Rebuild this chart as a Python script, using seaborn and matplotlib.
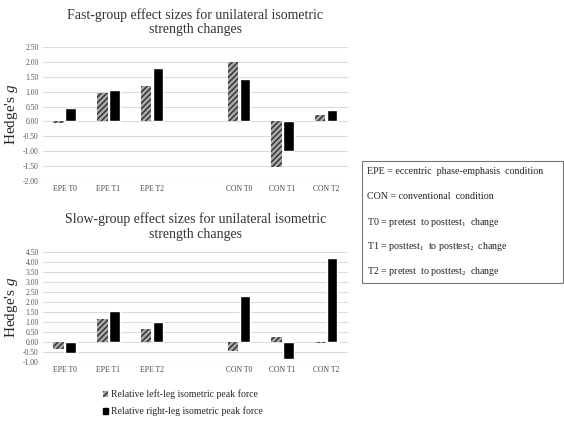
import numpy as np
import pandas as pd
import matplotlib
matplotlib.use("Agg")
import matplotlib.pyplot as plt
from matplotlib.patches import Patch, Rectangle
import seaborn as sns

# categories (blank slot separates the two conditions)
categories = ["EPE T0", "EPE T1", "EPE T2", "", "CON T0", "CON T1", "CON T2"]
conditions = ["EPE T0", "EPE T1", "EPE T2", "CON T0", "CON T1", "CON T2"]
sides = ["Relative left-leg isometric peak force", "Relative right-leg isometric peak force"]

fast_left = [-0.05, 0.95, 1.20, 2.00, -1.52, 0.22]
fast_right = [0.45, 1.05, 1.80, 1.42, -1.00, 0.40]
slow_left = [-0.33, 1.13, 0.63, -0.47, 0.27, -0.03]
slow_right = [-0.55, 1.53, 1.02, 2.32, -0.85, 4.20]

fast_ticks = np.arange(-2.0, 2.51, 0.5)
slow_ticks = np.arange(-1.0, 4.51, 0.5)

notes = ["EPE = eccentric  phase-emphasis  condition",
         "CON = conventional  condition",
         "T0 = pretest  to posttest$_1$  change",
         "T1 = posttest$_1$  to posttest$_2$  change",
         "T2 = pretest  to posttest$_2$  change"]

sns.set_style("white")
plt.rcParams["font.family"] = ["Liberation Serif", "DejaVu Serif"]
plt.rcParams["mathtext.fontset"] = "custom"
plt.rcParams["mathtext.rm"] = "Liberation Serif"
plt.rcParams["mathtext.it"] = "Liberation Serif:italic"
plt.rcParams["hatch.linewidth"] = 1.0

hatch_face = "#a8a8a8"
hatch_line = "#2e2e2e"
right_color = "#000000"


def make_df(left, right):
    return pd.DataFrame({
        "cond": conditions * 2,
        "g": list(left) + list(right),
        "side": [sides[0]] * len(left) + [sides[1]] * len(right),
    })


def draw_panel(ax, left, right, ticks, title):
    df = make_df(left, right)
    sns.barplot(data=df, x="cond", y="g", hue="side", order=categories,
                hue_order=sides, palette=[hatch_face, right_color],
                width=0.55, gap=0.12, ax=ax, legend=False, saturation=1)
    for bar in ax.containers[0]:
        bar.set_facecolor(hatch_face)
        bar.set_edgecolor(hatch_line)
        bar.set_hatch("//////")
        bar.set_linewidth(0)
    ax.set_ylim(ticks[0], ticks[-1])
    ax.set_yticks(ticks)
    ax.set_yticklabels([f"{t:.2f}" for t in ticks], fontsize=5.5, color="#555555")
    ax.set_xticks(range(len(categories)))
    ax.set_xticklabels(categories, fontsize=5.5, color="#444444")
    ax.tick_params(length=0, pad=3)
    ax.grid(axis="y", color="#dcdcdc", linewidth=0.8)
    ax.set_axisbelow(True)
    for s in ax.spines.values():
        s.set_visible(False)
    ax.set_xlabel("")
    ax.set_ylabel("Hedge's $\\mathit{g}$", fontsize=11, labelpad=2)
    ax.set_title(title, fontsize=10, color="#333333", pad=10, linespacing=1.15)


fig = plt.figure(figsize=(5.64, 4.24), dpi=100)
ax1 = fig.add_axes([0.076, 0.573, 0.541, 0.316])
ax2 = fig.add_axes([0.076, 0.146, 0.541, 0.260])

draw_panel(ax1, fast_left, fast_right, fast_ticks,
           "Fast-group effect sizes for unilateral isometric\nstrength changes")
draw_panel(ax2, slow_left, slow_right, slow_ticks,
           "Slow-group effect sizes for unilateral isometric\nstrength changes")

handles = [Patch(facecolor=hatch_face, edgecolor=hatch_line, hatch="//////", linewidth=0),
           Patch(facecolor=right_color, edgecolor=right_color)]
fig.legend(handles, sides, loc="upper left", bbox_to_anchor=(0.175, 0.09),
           frameon=False, fontsize=7, handlelength=0.6, handleheight=0.6,
           handletextpad=0.3, labelspacing=0.75, borderaxespad=0)

# definitions box
box = Rectangle((362 / 564, 1 - 283 / 424), 201 / 564, 122 / 424,
                transform=fig.transFigure, facecolor="white", edgecolor="#777777",
                linewidth=0.8)
fig.patches.append(box)
for i, line in enumerate(notes):
    fig.text(367 / 564, 1 - (172 + i * 25) / 424, line, fontsize=7.2,
             va="center", ha="left", color="#222222")

fig.savefig("out.png", dpi=100)
